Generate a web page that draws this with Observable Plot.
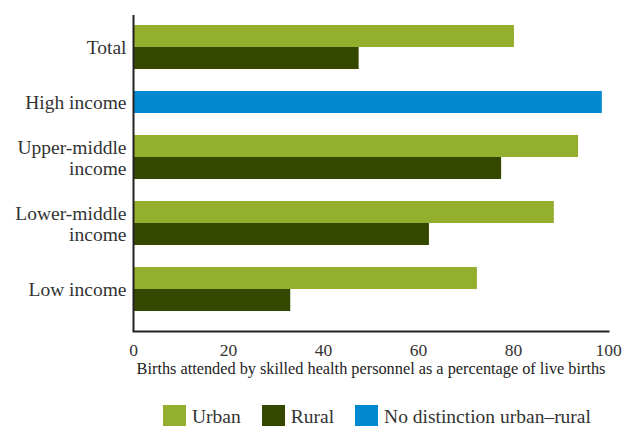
<!DOCTYPE html>
<html>
<head>
<meta charset="utf-8">
<script src="https://cdn.jsdelivr.net/npm/d3@7"></script>
<script src="https://cdn.jsdelivr.net/npm/@observablehq/plot@0.6"></script>
<style>
  html, body { margin: 0; padding: 0; background: #fff; }
  #chart { width: 623px; }
  #legend { margin-left: 163px; margin-top: 8px; line-height: 23px; flex-wrap: nowrap !important; white-space: nowrap; }
  .lg-swatch { margin-right: 21px !important; }
  .lg-swatch:last-child { margin-right: 0 !important; }
  .lg-swatch > svg { margin-right: 6px !important; }
</style>
</head>
<body>
<div id="chart"></div>
<script>
const categories = ["Total", "High income", "Upper-middle income", "Lower-middle income", "Low income"];
const categoryLabels = ["Total", "High income", "Upper-middle\nincome", "Lower-middle\nincome", "Low income"];
const seriesNames = ["Urban", "Rural", "No distinction urban–rural"];
const urban = [80.2, null, 93.7, 88.6, 72.4];
const rural = [47.5, null, 77.5, 62.3, 33.1];
const noDistinction = [null, 98.7, null, null, null];
const xTicks = [0, 20, 40, 60, 80, 100];
const xTitle = "Births attended by skilled health personnel as a percentage of live births";
const seriesColors = ["#93af2d", "#354800", "#0089d1"];

const width = 623, height = 392;
const marginTop = 15, marginBottom = 61, marginLeft = 133, marginRight = 15;
const outerPad = 0.65;

const rows = [], slots = [], labelRows = [];
categories.forEach((c, i) => {
  if (i > 0) slots.push("gap" + i);
  const vals = [urban[i], rural[i], noDistinction[i]];
  const present = seriesNames.map((s, j) => ({s, v: vals[j]})).filter(d => d.v != null);
  present.forEach(d => {
    slots.push(c + "|" + d.s);
    rows.push({category: c, series: d.s, value: d.v, key: c + "|" + d.s});
  });
  labelRows.push({name: categoryLabels[i], key: c + "|" + present[present.length - 1].s, pair: present.length === 2});
});

const step = (height - marginTop - marginBottom) / (slots.length + 2 * outerPad);
const font = "'Liberation Serif', serif";

const chart = Plot.plot({
  width, height, marginTop, marginBottom, marginLeft, marginRight,
  style: {fontFamily: font, fontSize: "17px", color: "#333", background: "#fff"},
  x: {domain: [0, 100]},
  y: {domain: slots, type: "band", paddingInner: 0, paddingOuter: outerPad, align: 0.33, axis: null},
  color: {domain: seriesNames, range: seriesColors},
  marks: [
    Plot.barX(rows, {x: "value", y: "key", fill: "series"}),
    Plot.axisX({ticks: xTicks, tickSize: 0, tickPadding: 12, fontSize: 17.5, label: null, fill: "#333"}),
    Plot.text([xTitle], {frameAnchor: "bottom", dy: 42, lineAnchor: "bottom", fontSize: 16.3, fill: "#222"}),
    Plot.text(labelRows.filter(d => d.pair), {frameAnchor: "left", y: "key", text: "name", textAnchor: "end", dx: -7, dy: -step / 2, fontSize: 19.5, lineHeight: 1.1, fill: "#333"}),
    Plot.text(labelRows.filter(d => !d.pair), {frameAnchor: "left", y: "key", text: "name", textAnchor: "end", dx: -7, fontSize: 19.5, fill: "#333"}),
    Plot.ruleX([0], {stroke: "#222", strokeWidth: 2}),
    Plot.frame({anchor: "bottom", stroke: "#222", strokeWidth: 2})
  ]
});
document.getElementById("chart").appendChild(chart);

const legend = Plot.legend({
  color: {domain: seriesNames, range: seriesColors},
  swatchSize: 23,
  className: "lg",
  style: {fontFamily: font, fontSize: "19.5px", color: "#333"}
});
legend.id = "legend";
document.getElementById("chart").appendChild(legend);
</script>
</body>
</html>
